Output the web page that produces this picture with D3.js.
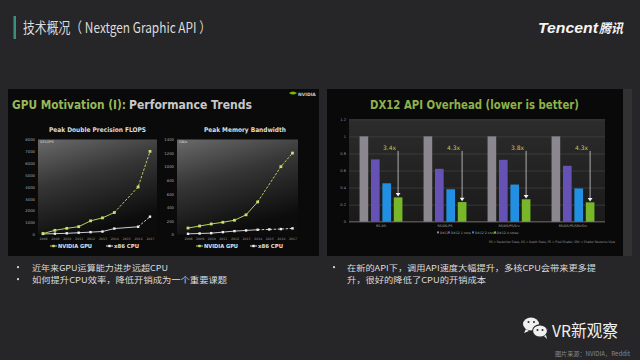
<!DOCTYPE html>
<html><head><meta charset="utf-8">
<script src="https://cdn.jsdelivr.net/npm/d3@7"></script>
<style>html,body{margin:0;padding:0;background:#262527;}svg{display:block}</style>
</head><body><svg id="c" width="640" height="360"></svg>
<script>
// ---------- DATA ----------
const years = [2008, 2009, 2010, 2011, 2012, 2013, 2014, 2015, 2016, 2017];
const gpuFlops = [80, 350, 520, 660, 1150, 1400, 1850, null, 4000, 7000];
const cpuFlops = [50, 70, 100, 150, 200, 250, 500, null, 650, 1500];
const flopsTicks = [0, 1000, 2000, 3000, 4000, 5000, 6000, 7000, 8000];
const gpuBandwidth = [95, 125, 155, 180, 210, 290, 480, null, 1000, 1200];
const cpuBandwidth = [10, 15, 20, 35, 50, 60, 70, 75, 80, 90];
const bwTicks = [0, 200, 400, 600, 800, 1000, 1200, 1400];

const dxGroups = ["RS-DS", "RS/DS/PS", "RS/DS/PS/Srv", "RS/DS/PS/SRV/Srv"];
const dxSeries = ["DX11", "DX12 1 core", "DX12 2 cores", "DX12 4 cores"];
const dx11 = [1, 1, 1, 1];
const dx12One = [0.73, 0.62, 0.725, 0.655];
const dx12Two = [0.45, 0.38, 0.435, 0.39];
const dx12Four = [0.285, 0.23, 0.263, 0.227];
const speedups = ["3.4x", "4.3x", "3.8x", "4.3x"];
const dxTicks = [0, 0.2, 0.4, 0.6, 0.8, 1, 1.2];

const bulletsLeft = ["近年来GPU运算能力进步远超CPU", "如何提升CPU效率，降低开销成为一个重要课题"];
const bulletsRight = ["在新的API下，调用API速度大幅提升，多核CPU会带来更多提", "升，很好的降低了CPU的开销成本"];

// ---------- DRAW ----------
const svg = d3.select("#c");
const CJK = "'Noto Sans CJK SC','Noto Sans',sans-serif";
const defs = svg.append("defs");

const pg = defs.append("linearGradient").attr("id", "plotGrad").attr("x1", 0).attr("y1", 0).attr("x2", 0.35).attr("y2", 1);
pg.append("stop").attr("offset", 0).attr("stop-color", "#6a6a6a");
pg.append("stop").attr("offset", 0.45).attr("stop-color", "#363636");
pg.append("stop").attr("offset", 1).attr("stop-color", "#0c0c0c");

const rg = defs.append("linearGradient").attr("id", "dxGrad").attr("x1", 0).attr("y1", 0).attr("x2", 0).attr("y2", 1);
rg.append("stop").attr("offset", 0).attr("stop-color", "#2c2c2c");
rg.append("stop").attr("offset", 1).attr("stop-color", "#1a1a1a");

// Header
svg.append("rect").attr("x", 13.5).attr("y", 16).attr("width", 2.5).attr("height", 23).attr("fill", "#3c8f7c");
svg.append("text").attr("x", 23).attr("y", 32.5).attr("font-family", CJK).attr("font-size", 14.5)
  .attr("fill", "#dcdcdc").attr("textLength", 188).attr("lengthAdjust", "spacingAndGlyphs")
  .text("技术概况（ Nextgen Graphic API ）");
svg.append("text").attr("x", 538).attr("y", 33).attr("font-family", "'Liberation Sans',Arial,sans-serif")
  .attr("font-size", 15.5).attr("font-weight", "bold").attr("font-style", "italic").attr("fill", "#f4f4f4")
  .attr("textLength", 60).attr("lengthAdjust", "spacingAndGlyphs").text("Tencent");
svg.append("text").attr("x", 599).attr("y", 33).attr("font-family", CJK)
  .attr("font-size", 13).attr("font-weight", "bold").attr("font-style", "italic").attr("fill", "#f4f4f4")
  .attr("textLength", 24).attr("lengthAdjust", "spacingAndGlyphs").text("腾讯");

// ---------- LEFT PANEL ----------
svg.append("rect").attr("x", 8).attr("y", 89).attr("width", 311).attr("height", 167).attr("fill", "#0a0a0a");
svg.append("text").attr("x", 12).attr("y", 108.5).attr("font-family", "'DejaVu Sans',sans-serif")
  .attr("font-size", 12).attr("font-weight", "bold").attr("fill", "#98b85a")
  .attr("textLength", 114).attr("lengthAdjust", "spacingAndGlyphs").text("GPU Motivation (I):");
svg.append("text").attr("x", 129).attr("y", 108.5).attr("font-family", "'DejaVu Sans',sans-serif")
  .attr("font-size", 12).attr("font-weight", "bold").attr("fill", "#c8c8c8")
  .attr("textLength", 123).attr("lengthAdjust", "spacingAndGlyphs").text("Performance Trends");
// nvidia mini logo
svg.append("path").attr("d", "M289,93 q4,-3 8,0 q-4,3 -8,0 z").attr("fill", "#76b900");
svg.append("text").attr("x", 298).attr("y", 95.5).attr("font-family", "'DejaVu Sans',sans-serif")
  .attr("font-size", 4.5).attr("font-weight", "bold").attr("fill", "#cccccc").text("NVIDIA");

function lineChart(o) {
  const x = d3.scaleLinear().domain([years[0], years[years.length - 1]]).range([o.x0, o.x1]);
  const y = d3.scaleLinear().domain([0, o.ticks[o.ticks.length - 1]]).range([o.yb, o.yt]);
  svg.append("rect").attr("x", o.left).attr("y", o.yt).attr("width", o.right - o.left).attr("height", o.yb - o.yt)
    .attr("fill", "url(#plotGrad)");
  svg.append("text").attr("x", (o.tl + o.tr) / 2).attr("y", 131.5).attr("text-anchor", "middle")
    .attr("font-family", "'DejaVu Sans',sans-serif").attr("font-size", 6.5).attr("font-weight", "bold")
    .attr("fill", "#dedede").attr("textLength", o.tr - o.tl).attr("lengthAdjust", "spacingAndGlyphs").text(o.title);
  svg.append("text").attr("x", o.left + 2).attr("y", o.yt + 3.5).attr("font-family", "'DejaVu Sans',sans-serif")
    .attr("font-size", 3.5).attr("fill", "#dddddd").text(o.unit);
  const ya = svg.append("g").attr("transform", `translate(${o.left},0)`)
    .call(d3.axisLeft(y).tickValues(o.ticks).tickSize(0).tickPadding(3).tickFormat(d3.format("d")));
  ya.select(".domain").remove();
  ya.selectAll("text").attr("font-size", 3.8).attr("fill", "#aaaaaa").attr("font-family", "'DejaVu Sans',sans-serif");
  const xa = svg.append("g").attr("transform", `translate(0,${o.yb})`)
    .call(d3.axisBottom(x).tickValues(years).tickSize(0).tickPadding(3).tickFormat(d3.format("d")));
  xa.select(".domain").remove();
  xa.selectAll("text").attr("font-size", 3.2).attr("fill", "#999999").attr("font-family", "'DejaVu Sans',sans-serif");

  const gpu = years.map((yr, i) => ({ yr, v: o.gpu[i] })).filter(d => d.v != null);
  const cpu = years.map((yr, i) => ({ yr, v: o.cpu[i] })).filter(d => d.v != null);
  const line = d3.line().x(d => x(d.yr)).y(d => y(d.v));
  const seg = (arr, from, color, w) => {
    svg.append("path").attr("d", line(arr.filter(d => d.yr <= from))).attr("fill", "none").attr("stroke", color).attr("stroke-width", w);
    svg.append("path").attr("d", line(arr.filter(d => d.yr >= from))).attr("fill", "none").attr("stroke", color).attr("stroke-width", w)
      .attr("stroke-dasharray", "2.5,1.5");
  };
  seg(cpu, o.cpuDashFrom, "#e0e0e0", 0.9);
  seg(gpu, 2014, "#b4d45c", 1);
  svg.selectAll(null).data(cpu).enter().append("rect")
    .attr("x", d => x(d.yr) - 1.2).attr("y", d => y(d.v) - 1.2).attr("width", 2.4).attr("height", 2.4).attr("fill", "#eeeeee");
  svg.selectAll(null).data(gpu).enter().append("rect")
    .attr("x", d => x(d.yr) - 1.4).attr("y", d => y(d.v) - 1.4).attr("width", 2.8).attr("height", 2.8).attr("fill", "#c8e070");

  // legend
  const lg = svg.append("g").attr("font-family", "'DejaVu Sans',sans-serif").attr("font-size", 5.5).attr("font-weight", "bold").attr("fill", "#e0e0e0");
  lg.append("line").attr("x1", o.lg1).attr("x2", o.lg1 + 7).attr("y1", 246).attr("y2", 246).attr("stroke", "#b4d45c").attr("stroke-width", 1);
  lg.append("rect").attr("x", o.lg1 + 2.3).attr("y", 244.8).attr("width", 2.4).attr("height", 2.4).attr("fill", "#c8e070");
  lg.append("text").attr("x", o.lg1 + 8).attr("y", 248).attr("textLength", 34).attr("lengthAdjust", "spacingAndGlyphs").text("NVIDIA GPU");
  lg.append("line").attr("x1", o.lg2).attr("x2", o.lg2 + 7).attr("y1", 246).attr("y2", 246).attr("stroke", "#e0e0e0").attr("stroke-width", 1);
  lg.append("rect").attr("x", o.lg2 + 2.3).attr("y", 244.8).attr("width", 2.4).attr("height", 2.4).attr("fill", "#eeeeee");
  lg.append("text").attr("x", o.lg2 + 8).attr("y", 248).attr("textLength", 25).attr("lengthAdjust", "spacingAndGlyphs").text("x86 CPU");
}

lineChart({ left: 38, right: 157, x0: 43, x1: 150, yt: 139.5, yb: 234.5, ticks: flopsTicks,
  gpu: gpuFlops, cpu: cpuFlops, cpuDashFrom: 2016, title: "Peak Double Precision FLOPS", tl: 49, tr: 146,
  unit: "GFLOPS", lg1: 50, lg2: 106 });
lineChart({ left: 177, right: 298, x0: 188, x1: 292.5, yt: 139.5, yb: 234.5, ticks: bwTicks,
  gpu: gpuBandwidth, cpu: cpuBandwidth, cpuDashFrom: 2014, title: "Peak Memory Bandwidth", tl: 204, tr: 286,
  unit: "GB/s", lg1: 196, lg2: 250 });

// ---------- RIGHT PANEL ----------
svg.append("rect").attr("x", 623).attr("y", 89).attr("width", 9).attr("height", 167).attr("fill", "#323233");
svg.append("rect").attr("x", 327).attr("y", 89).attr("width", 296).attr("height", 167).attr("fill", "#090909");
svg.append("text").attr("x", 370).attr("y", 108.5).attr("font-family", "'DejaVu Sans',sans-serif")
  .attr("font-size", 12).attr("font-weight", "bold").attr("fill", "#8fb24a")
  .attr("textLength", 209).attr("lengthAdjust", "spacingAndGlyphs").text("DX12 API Overhead (lower is better)");

const pL = 349, pR = 605;
const yd = d3.scaleLinear().domain([0, 1.2]).range([221.7, 119.3]);
svg.append("rect").attr("x", pL).attr("y", yd(1.2)).attr("width", pR - pL).attr("height", yd(0) - yd(1.2)).attr("fill", "url(#dxGrad)");
const ga = svg.append("g").attr("transform", `translate(${pL},0)`)
  .call(d3.axisLeft(yd).tickValues(dxTicks).tickSize(-(pR - pL)).tickPadding(3).tickFormat(d3.format("")));
ga.select(".domain").remove();
ga.selectAll("line").attr("stroke", "#444444").attr("stroke-width", 0.7);
ga.selectAll("text").attr("font-size", 3.6).attr("fill", "#9a9a9a").attr("font-family", "'DejaVu Sans',sans-serif");
svg.append("line").attr("x1", pL).attr("x2", pR).attr("y1", yd(0)).attr("y2", yd(0)).attr("stroke", "#777").attr("stroke-width", 0.7);

const x0 = d3.scaleBand().domain(dxGroups).range([pL, pR]).paddingInner(0.33).paddingOuter(0.165);
const x1 = d3.scaleBand().domain(dxSeries).range([0, x0.bandwidth()]).paddingInner(0.24);
const dxColors = { "DX11": "#8a888e", "DX12 1 core": "#6652b4", "DX12 2 cores": "#2290e2", "DX12 4 cores": "#78b62a" };
const dxValues = [dx11, dx12One, dx12Two, dx12Four];
dxGroups.forEach((g, gi) => {
  const gg = svg.append("g").attr("transform", `translate(${x0(g)},0)`);
  gg.selectAll("rect").data(dxSeries).enter().append("rect")
    .attr("x", s => x1(s)).attr("width", x1.bandwidth())
    .attr("y", (s, si) => yd(dxValues[si][gi])).attr("height", (s, si) => yd(0) - yd(dxValues[si][gi]))
    .attr("fill", s => dxColors[s]);
  const ax = x0(g) + x1("DX12 4 cores") + x1.bandwidth() / 2;
  svg.append("text").attr("x", ax - 2).attr("y", yd(0.86) + 2).attr("text-anchor", "end")
    .attr("font-family", "'DejaVu Sans',sans-serif").attr("font-size", 6).attr("fill", "#b8cc5a").text(speedups[gi]);
  svg.append("line").attr("x1", ax).attr("x2", ax).attr("y1", yd(0.83)).attr("y2", yd(dx12Four[gi]) - 3.5)
    .attr("stroke", "#e8e8e8").attr("stroke-width", 0.7);
  const ty = yd(dx12Four[gi]) - 0.8;
  svg.append("path").attr("d", `M${ax - 2.4},${ty - 3.5} L${ax + 2.4},${ty - 3.5} L${ax},${ty} Z`).attr("fill", "#f4f4f4");
  svg.append("text").attr("x", x0(g) + x0.bandwidth() / 2).attr("y", 226.5).attr("text-anchor", "middle")
    .attr("font-family", "'DejaVu Sans',sans-serif").attr("font-size", 3.2).attr("fill", "#aaaaaa").text(g);
});
// legend
const legX = [437, 448, 472, 494];
const lgd = svg.append("g").attr("font-family", "'DejaVu Sans',sans-serif").attr("font-size", 3.2).attr("fill", "#aaaaaa");
dxSeries.forEach((s, i) => {
  lgd.append("rect").attr("x", legX[i]).attr("y", 231.4).attr("width", 2).attr("height", 2).attr("fill", dxColors[s]);
  lgd.append("text").attr("x", legX[i] + 3).attr("y", 233.6).text(s);
});
svg.append("text").attr("x", 615).attr("y", 243).attr("text-anchor", "end")
  .attr("font-family", "'DejaVu Sans',sans-serif").attr("font-size", 3.2).attr("fill", "#999999")
  .attr("textLength", 126).attr("lengthAdjust", "spacingAndGlyphs")
  .text("RS = Rasterizer State, DS = Depth State, PS = Pixel Shader, SRV = Shader Resource View");

// ---------- BULLETS ----------
const bfs = 8.2;
function bulletLines(lines, tx, widths) {
  lines.forEach((t, i) => {
    svg.append("text").attr("x", tx).attr("y", 270.5 + i * 12).attr("font-family", CJK).attr("font-size", bfs)
      .attr("fill", "#dcdcdc").attr("textLength", widths[i]).attr("lengthAdjust", "spacingAndGlyphs").text(t);
  });
}
svg.selectAll(null).data([[18, 270], [18, 282], [334, 270]]).enter().append("circle")
  .attr("cx", d => d[0]).attr("cy", d => d[1] - 2.8).attr("r", 1.1).attr("fill", "#d8d8d8");
bulletLines(bulletsLeft, 32, [136, 195]);
bulletLines(bulletsRight, 347, [249, 139]);

// ---------- WATERMARK ----------
const wc = svg.append("g").attr("fill", "#f0f0f0");
wc.append("ellipse").attr("cx", 531).attr("cy", 324).attr("rx", 8).attr("ry", 6.5);
wc.append("path").attr("d", "M526,329 l-2,4 l5,-2 z");
wc.append("ellipse").attr("cx", 540).attr("cy", 331).attr("rx", 7.5).attr("ry", 6.2).attr("stroke", "#262527").attr("stroke-width", 1.2);
wc.append("path").attr("d", "M544,336 l3,3 l-1,-4 z");
const eyes = [[528.5, 322], [534, 322], [537.5, 330], [542.5, 330]];
svg.selectAll(null).data(eyes).enter().append("circle").attr("cx", d => d[0]).attr("cy", d => d[1]).attr("r", 1).attr("fill", "#262527");
svg.append("text").attr("x", 552).attr("y", 337).attr("font-family", CJK).attr("font-size", 16.5)
  .attr("fill", "#f0f0f0").attr("textLength", 66).attr("lengthAdjust", "spacingAndGlyphs").text("VR新观察");
svg.append("text").attr("x", 555).attr("y", 355.5).attr("font-family", CJK).attr("font-size", 6.2)
  .attr("fill", "#8a8a8a").attr("textLength", 75).attr("lengthAdjust", "spacingAndGlyphs").text("图片来源：NVIDIA，Reddit");
</script></body></html>
